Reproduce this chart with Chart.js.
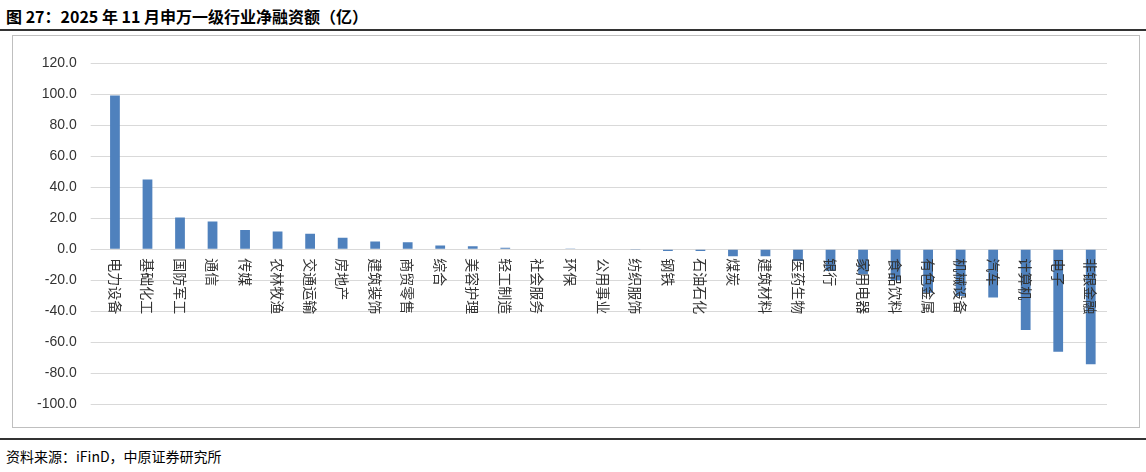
<!DOCTYPE html>
<html><head><meta charset="utf-8">
<script src="https://cdn.jsdelivr.net/npm/chart.js@4"></script>
<style>
body{margin:0;width:1146px;height:472px;background:#fff;font-family:"Noto Sans CJK SC",sans-serif;position:relative;overflow:hidden}
#title{position:absolute;left:6px;top:4px;font-size:16px;font-weight:bold;color:#000}
#tl{position:absolute;left:0;top:29px;width:1146px;height:2px;background:#333}
#box{position:absolute;left:12px;top:35px;width:1128px;height:393px;border:1px solid #bfbfbf;box-sizing:border-box}
#bl{position:absolute;left:0;top:438px;width:1146px;height:2px;background:#333}
#src{position:absolute;left:6px;top:446px;font-size:14px;color:#000}
</style></head><body>
<div id="title">图 27：2025 年 11 月申万一级行业净融资额（亿）</div>
<div id="tl"></div>
<div id="box"><canvas id="c"></canvas></div>
<div id="bl"></div>
<div id="src">资料来源：iFinD，中原证券研究所</div>
<script>
const categories=["电力设备","基础化工","国防军工","通信","传媒","农林牧渔","交通运输","房地产","建筑装饰","商贸零售","综合","美容护理","轻工制造","社会服务","环保","公用事业","纺织服饰","钢铁","石油石化","煤炭","建筑材料","医药生物","银行","家用电器","食品饮料","有色金属","机械设备","汽车","计算机","电子","非银金融"];
const values=[99,45,20.5,18,12.5,11.5,10,7.5,5,4.5,2.5,2,1,0.3,0.2,-0.2,-0.5,-1,-1,-4.5,-4.5,-7.5,-14,-16,-20,-28,-30,-31,-52,-66,-74];
const yTicks=[120,100,80,60,40,20,0,-20,-40,-60,-80,-100];
const labelPlugin={id:'lbl',afterDatasetsDraw(ch){
  const x=ch.scales.x,y=ch.scales.y,ctx=ch.ctx;
  ctx.save();ctx.font='14px "Noto Sans CJK SC"';ctx.fillStyle='#333';ctx.textBaseline='middle';ctx.textAlign='left';
  categories.forEach((c,i)=>{const px=x.getPixelForValue(i),py=y.getPixelForValue(0)+9;
    ctx.save();ctx.translate(px,py);ctx.rotate(Math.PI/2);ctx.fillText(c,0,0);ctx.restore();});
  ctx.restore();}};
new Chart(document.getElementById('c'),{type:'bar',
 data:{labels:categories,datasets:[{data:values,backgroundColor:'#4f81bd',barPercentage:0.3,categoryPercentage:1}]},
 options:{responsive:true,maintainAspectRatio:false,animation:false,
  layout:{padding:{top:27,bottom:14,right:32,left:10}},
  plugins:{legend:{display:false},tooltip:{enabled:false}},
  scales:{x:{ticks:{display:false},grid:{display:false},border:{display:false}},
   y:{min:-100,max:120,afterBuildTicks:s=>{s.ticks=yTicks.map(v=>({value:v}))},
    ticks:{font:{size:14,family:'Liberation Sans'},color:'#333',padding:14,callback:v=>v.toFixed(1)},
    grid:{color:'#d9d9d9'},border:{display:false}}}},
 plugins:[labelPlugin]});
</script></body></html>
